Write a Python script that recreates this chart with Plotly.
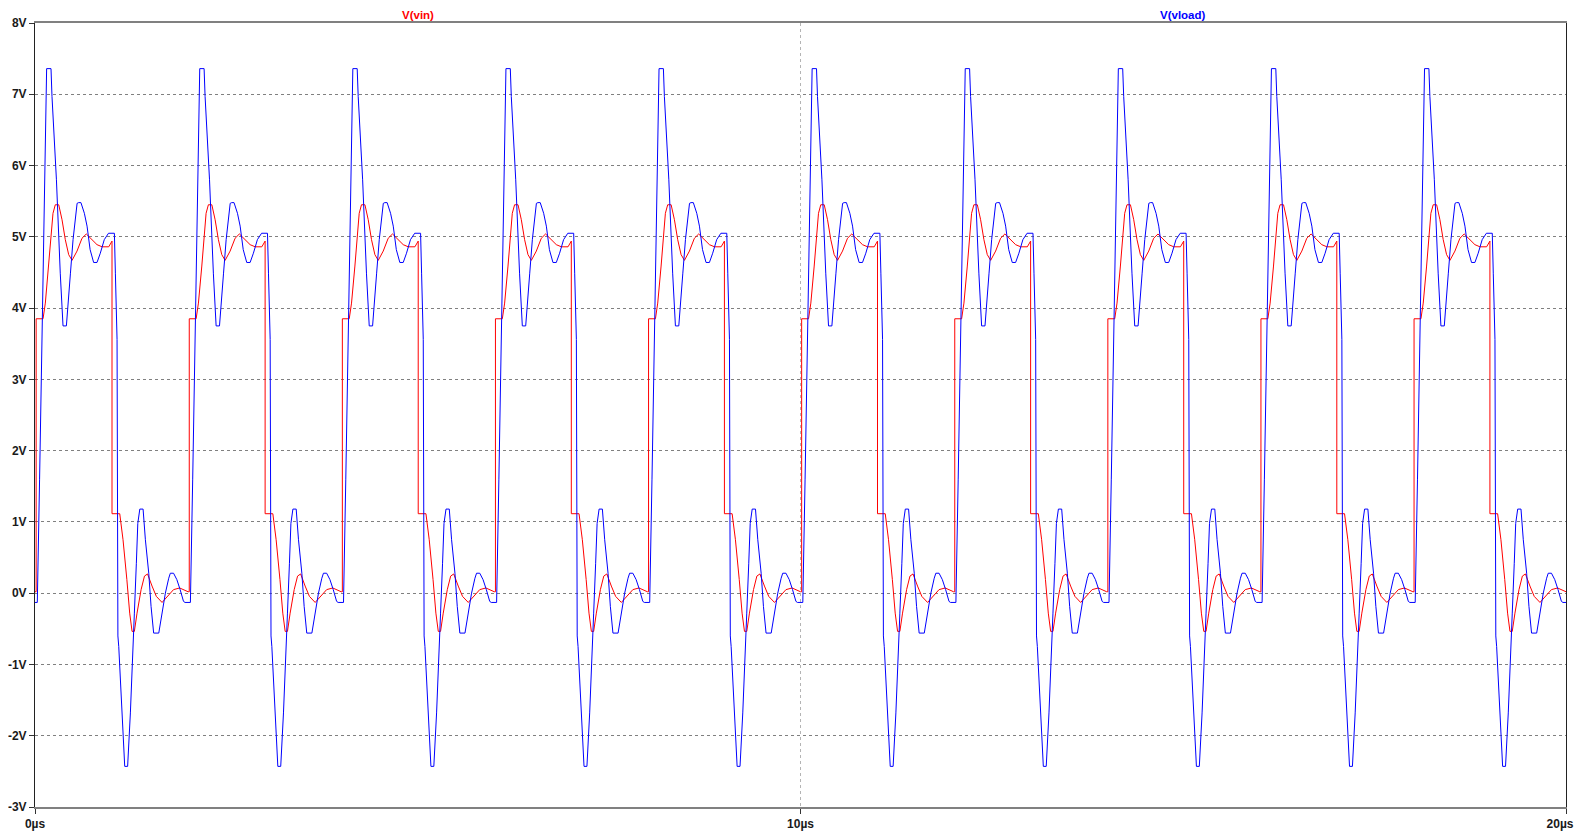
import plotly.graph_objects as go

# one switching period (2 µs): time in µs, volts
period = 2.0
cycle_starts = [0, 2, 4, 6, 8, 10, 12, 14, 16, 18]

vin_t = [0.0, 0.015, 0.015, 0.105, 0.135, 0.179, 0.21, 0.235, 0.265, 0.31,
         0.353, 0.396, 0.44, 0.484, 0.549, 0.614, 0.67, 0.745, 0.81, 0.876,
         0.963, 1.006, 1.006, 1.107, 1.15, 1.2, 1.237, 1.268, 1.298, 1.333,
         1.386, 1.43, 1.47, 1.529, 1.585, 1.66, 1.747, 1.81, 1.89, 1.978]
vin_v = [0.02, 0.02, 3.85, 3.85, 4.07, 4.59, 5.05, 5.33, 5.45, 5.45,
         5.24, 4.96, 4.75, 4.67, 4.80, 4.98, 5.04, 4.96, 4.89, 4.86,
         4.86, 4.94, 1.115, 1.115, 0.75, 0.19, -0.28, -0.536, -0.536, -0.28,
         0.05, 0.24, 0.27, 0.10, -0.045, -0.13, -0.02, 0.05, 0.073, 0.025]

vload_t = [0.0, 0.03, 0.06, 0.092, 0.113, 0.135, 0.152, 0.209, 0.222, 0.28,
           0.30, 0.33, 0.366, 0.41, 0.463, 0.497, 0.55, 0.57, 0.60, 0.645,
           0.68, 0.72, 0.766, 0.81, 0.853, 0.905, 0.96, 1.037, 1.05, 1.072,
           1.083, 1.094, 1.172, 1.21, 1.246, 1.268, 1.298, 1.324, 1.343, 1.369,
           1.412, 1.442, 1.486, 1.516, 1.55, 1.617, 1.66, 1.703, 1.747, 1.768,
           1.81, 1.853, 1.896, 1.94, 1.96]
vload_v = [-0.13, -0.13, 1.6, 3.55, 4.96, 6.36, 7.36, 7.36, 6.97, 5.8,
           5.15, 4.49, 3.75, 3.75, 4.49, 4.96, 5.47, 5.48, 5.48, 5.33,
           5.15, 4.82, 4.64, 4.64, 4.77, 4.96, 5.05, 5.05, 4.49, 3.56,
           -0.6, -0.75, -2.43, -2.43, -1.68, -0.98, -0.28, 0.42, 0.98, 1.18,
           1.18, 0.75, 0.28, -0.185, -0.56, -0.56, -0.28, 0.0, 0.21, 0.28,
           0.28, 0.19, 0.05, -0.115, -0.13]

y_ticks = [-3, -2, -1, 0, 1, 2, 3, 4, 5, 6, 7, 8]
y_labels = ["-3V", "-2V", "-1V", "0V", "1V", "2V", "3V", "4V", "5V", "6V", "7V", "8V"]
x_ticks = [0, 10, 20]
x_labels = ["0µs", "10µs", "20µs"]


def tile(ts, vs):
    xs, ys = [], []
    for c in cycle_starts:
        xs += [c + t for t in ts]
        ys += vs
    xs.append(cycle_starts[-1] + period)
    ys.append(vs[0])
    return xs, ys


vin_x, vin_y = tile(vin_t, vin_v)
vload_x, vload_y = tile(vload_t, vload_v)

fig = go.Figure()
fig.add_trace(go.Scatter(x=vin_x, y=vin_y, mode="lines", name="V(vin)",
                         line=dict(color="#ff0000", width=1)))
fig.add_trace(go.Scatter(x=vload_x, y=vload_y, mode="lines", name="V(vload)",
                         line=dict(color="#0000ff", width=1)))

lbl_font = dict(family="Liberation Sans, Arial", size=12, color="#1a1a1a", weight="bold")

# trace names sit above the plot like LTspice's header
for name, xpos, col in [("V(vin)", 5, "#ff0000"), ("V(vload)", 15, "#0000ff")]:
    fig.add_annotation(x=xpos, y=1, xref="x", yref="paper", yanchor="middle",
                       yshift=8, borderpad=0, text=name, showarrow=False,
                       font=dict(family="Liberation Sans, Arial", size=11.5,
                                 color=col, weight="bold"))

# last label would run past the page edge; a trailing em space nudges it left
x_text = x_labels[:-1] + [x_labels[-1] + "\u2003"]

fig.update_xaxes(range=[0, 20], tickvals=x_ticks, ticktext=x_text, automargin=False,
                 ticklabeloverflow="allow",
                 showgrid=True, gridcolor="#b4b4b4", griddash="dot", gridwidth=1,
                 zeroline=False, showline=True, linecolor="#808080", linewidth=2,
                 mirror=True, ticks="outside", ticklen=5, tickcolor="#333333",
                 tickfont=lbl_font)
fig.update_yaxes(range=[-3, 8], tickvals=y_ticks, ticktext=y_labels, automargin=False,
                 showgrid=True, gridcolor="#808080", griddash="dot", gridwidth=1,
                 zeroline=False, showline=True, linecolor="#222222", linewidth=1,
                 mirror=True, ticks="outside", ticklen=5, tickcolor="#333333",
                 tickfont=lbl_font)

# page body has an 8px margin, so the figure is sized/offset to land on the reference frame
fig.update_layout(width=1567, height=823, showlegend=False,
                  paper_bgcolor="white", plot_bgcolor="white",
                  margin=dict(l=27, r=9, t=15, b=24))

fig.write_html("out.html")
